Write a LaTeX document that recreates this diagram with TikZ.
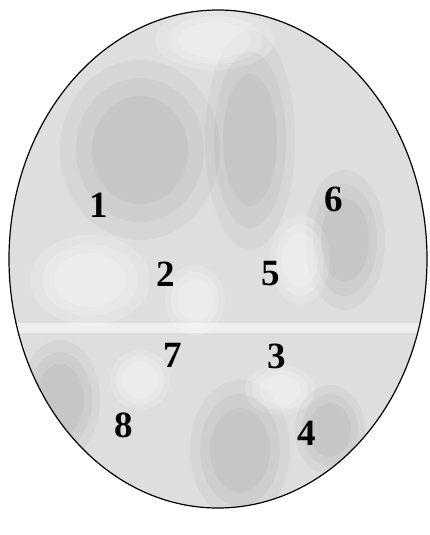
\documentclass[tikz,border=0pt]{standalone}
\usepackage{fontspec}
\setmainfont{Liberation Serif}
\begin{document}
\begin{tikzpicture}[x=1pt,y=-1pt,
  lbl/.style={font=\bfseries\fontsize{37}{37}\selectfont, inner sep=0pt, anchor=center},
  dark/.style={fill=black, fill opacity=0.035, draw=none},
  light/.style={fill=white, fill opacity=0.18, draw=none}]
\path[use as bounding box] (0,0) rectangle (430,535);
\fill[white] (0,0) rectangle (430,535);
\begin{scope}
  \clip (218,259) ellipse [x radius=209, y radius=249];
  \fill[gray!26] (0,0) rectangle (430,535);
  % darker patches (soft, layered)
  \foreach \s in {1.0,0.8,0.6}{
    \fill[dark] (140,150) ellipse [x radius=80*\s, y radius=90*\s];
    \fill[dark] (250,140) ellipse [x radius=45*\s, y radius=110*\s];
    \fill[dark] (345,240) ellipse [x radius=40*\s, y radius=70*\s];
    \fill[dark] (240,450) ellipse [x radius=50*\s, y radius=70*\s];
    \fill[dark] (330,430) ellipse [x radius=35*\s, y radius=45*\s];
    \fill[dark] (60,400) ellipse [x radius=40*\s, y radius=60*\s];
    \fill[light] (90,280) ellipse [x radius=60*\s, y radius=45*\s];
    \fill[light] (195,300) ellipse [x radius=30*\s, y radius=35*\s];
    \fill[light] (300,260) ellipse [x radius=30*\s, y radius=45*\s];
    \fill[light] (215,40) ellipse [x radius=60*\s, y radius=30*\s];
    \fill[light] (140,380) ellipse [x radius=30*\s, y radius=30*\s];
    \fill[light] (280,390) ellipse [x radius=35*\s, y radius=25*\s];
  }
  \fill[white, fill opacity=0.5] (0,323) rectangle (430,333);
\end{scope}
\draw[line width=1.2pt] (218,259) ellipse [x radius=209, y radius=249];
\node[lbl] (n1) at (99,205) {1};
\node[lbl] (n6) at (334,199) {6};
\node[lbl] (n2) at (166,274) {2};
\node[lbl] (n5) at (271,274) {5};
\node[lbl] (n7) at (173,355) {7};
\node[lbl] (n3) at (277,356) {3};
\node[lbl] (n8) at (124,425) {8};
\node[lbl] (n4) at (307,433) {4};
\end{tikzpicture}
\end{document}
